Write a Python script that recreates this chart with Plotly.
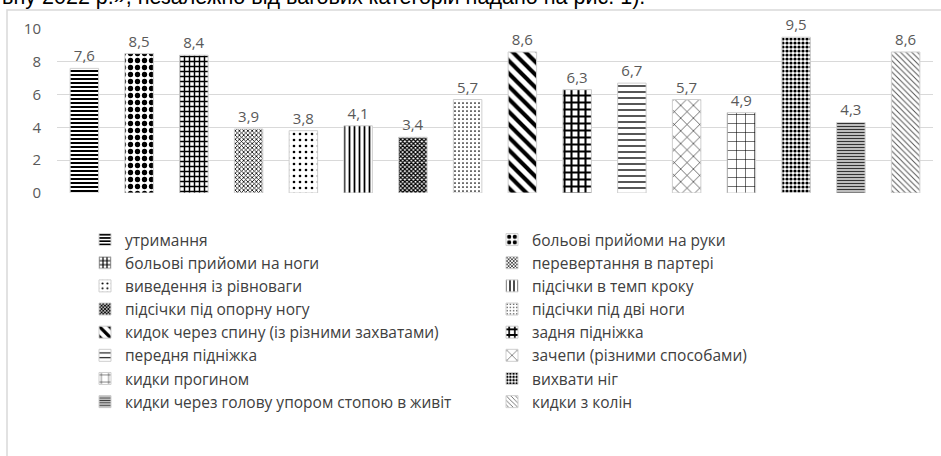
import plotly.graph_objects as go

categories = [
    "утримання",
    "больові прийоми на руки",
    "больові прийоми на ноги",
    "перевертання в партері",
    "виведення із рівноваги",
    "підсічки в темп кроку",
    "підсічки під опорну ногу",
    "підсічки під дві ноги",
    "кидок через спину (із різними захватами)",
    "задня підніжка",
    "передня підніжка",
    "зачепи (різними способами)",
    "кидки прогином",
    "вихвати ніг",
    "кидки через голову упором стопою в живіт",
    "кидки з колін",
]
values = [7.6, 8.5, 8.4, 3.9, 3.8, 4.1, 3.4, 5.7, 8.6, 6.3, 6.7, 5.7, 4.9, 9.5, 4.3, 8.6]
y_ticks = [0, 2, 4, 6, 8, 10]
top_text = "вну 2022 р.», незалежно від вагових категорій надано на рис. 1)."

# pattern styles (shape, size, solidity, fg colour)
patterns = [
    ("-", 4, 0.5, "#000000"),
    (".", 7, 0.45, "#000000"),
    ("+", 5, 0.5, "#000000"),
    ("x", 3, 0.45, "#000000"),
    (".", 6, 0.15, "#000000"),
    ("|", 5, 0.35, "#000000"),
    ("x", 3, 0.65, "#000000"),
    (".", 4, 0.15, "#000000"),
    ("\\", 9, 0.45, "#000000"),
    ("+", 7, 0.5, "#000000"),
    ("-", 6, 0.22, "#000000"),
    ("x", 9, 0.12, "#000000"),
    ("+", 9, 0.12, "#000000"),
    (".", 4, 0.5, "#000000"),
    ("-", 3, 0.55, "#333333"),
    ("\\", 4, 0.25, "#555555"),
]

W, H = 941, 456
L, R, T, B = 57, 8, 29, 263
PW, PH = W - L - R, H - T - B


def px_x(p):
    return (p - L) / PW


def px_y(p):
    return (H - B - p) / PH


fig = go.Figure()
for cat, val, (shape, size, sol, fg) in zip(categories, values, patterns):
    fig.add_trace(go.Bar(
        x=[cat], y=[val], name=cat,
        text=[f"{val:.1f}".replace(".", ",")],
        textposition="outside",
        constraintext="none",
        cliponaxis=False,
        textfont=dict(family="Open Sans", size=15, color="#595959"),
        marker=dict(
            color=fg,
            line=dict(width=1, color="#cfcfcf"),
            pattern=dict(shape=shape, size=size, solidity=sol,
                         fgcolor=fg, bgcolor="#ffffff", fillmode="replace"),
        ),
    ))

fig.update_layout(
    width=W, height=H,
    margin=dict(l=L, r=R, t=T, b=B, pad=0, autoexpand=False),
    paper_bgcolor="white", plot_bgcolor="white",
    barmode="overlay", bargap=0.48,
    showlegend=True,
    legend=dict(
        orientation="h", entrywidth=362, entrywidthmode="pixels",
        x=px_x(85), y=px_y(223), xanchor="left", yanchor="top",
        font=dict(family="Open Sans", size=15.5, color="#404040"),
        traceorder="normal", bgcolor="rgba(0,0,0,0)",
    ),
    xaxis=dict(showticklabels=False, showgrid=False, zeroline=False,
               showline=False, ticks="", categoryorder="array",
               categoryarray=categories),
    yaxis=dict(range=[0, 10], tickvals=y_ticks, showgrid=True,
               gridcolor="#d9d9d9", gridwidth=1, zeroline=False,
               showline=False, ticks="", ticklabelstandoff=15,
               tickfont=dict(family="Open Sans", size=15, color="#595959")),
    annotations=[dict(
        text=top_text, xref="paper", yref="paper",
        x=px_x(0), y=px_y(11), xanchor="left", yanchor="bottom",
        showarrow=False,
        font=dict(family="Liberation Sans", size=21.5, color="#000000"),
    )],
    shapes=[dict(
        type="rect", xref="paper", yref="paper",
        x0=px_x(7), x1=px_x(960), y0=px_y(10), y1=px_y(480),
        line=dict(color="#d9d9d9", width=1.5), fillcolor="rgba(0,0,0,0)",
        layer="below",
    )],
)

fig.write_html("out.html", config={"displayModeBar": False},
               post_script="document.body.style.margin='0px';")
